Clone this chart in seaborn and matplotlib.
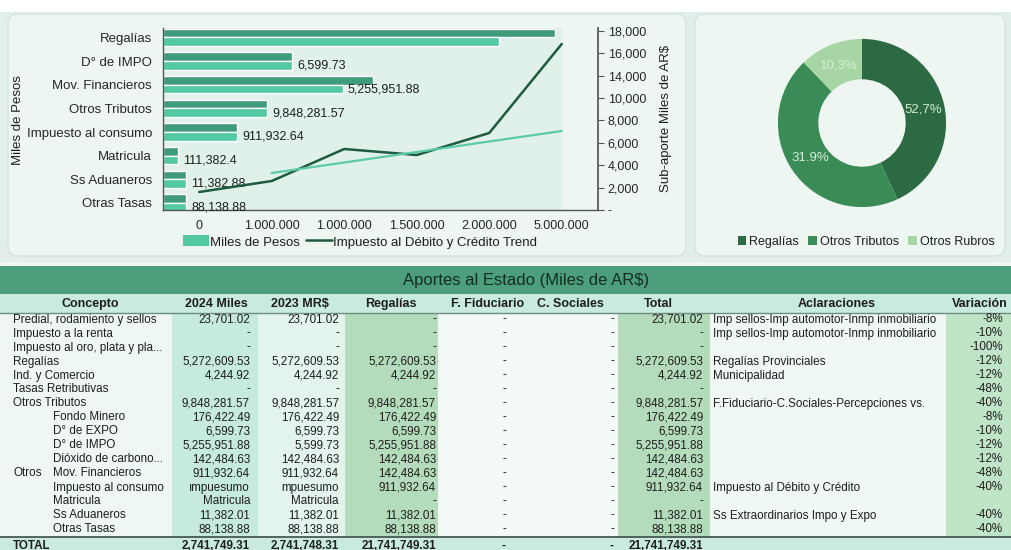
import numpy as np
import pandas as pd
import matplotlib
matplotlib.use("Agg")
import matplotlib.pyplot as plt
import seaborn as sns
from matplotlib import font_manager
from matplotlib.patches import FancyBboxPatch, Rectangle, Patch
from matplotlib.lines import Line2D

# Datos del grafico de barras (largo de barra)
categorias = ["Regalías", "D° de IMPO", "Mov. Financieros", "Otros Tributos",
              "Impuesto al consumo", "Matricula", "Ss Aduaneros", "Otras Tasas"]
barra_oscura = [3920, 1290, 2100, 1040, 740, 150, 230, 230]
barra_clara = [3360, 1290, 1800, 1040, 740, 150, 230, 230]
etiquetas_barra = ["", "6,599.73", "5,255,951.88", "9,848,281.57",
                   "911,932.64", "111,382.4", "11,382.88", "88,138.88"]

# Linea Impuesto al Debito y Credito + tendencia (eje derecho)
linea_x = [0, 1, 2, 3, 4, 5]
linea_val = [1810, 2916, 6134, 5531, 7743, 16693]
tend_x = [1, 5]
tend_val = [3720, 7944]
x_etiquetas = ["0", "1.000.000", "1.000.000", "1.500.000", "2.000.000", "5.000.000"]
y_der_ticks = [0, 2250, 4500, 6750, 9000, 11250, 13500, 15750, 18000]
y_der_etiquetas = ["-", "2,000", "4,000", "6,000", "8,000", "10,000", "14,000", "16,000", "18,000"]

# Dona
dona_nombres = ["Regalías", "Otros Tributos", "Otros Rubros"]
dona_val = [43.1, 44.7, 12.2]
dona_textos = ["52,7%", "31.9%", "10,3%"]

# Tabla
encabezados = ["Concepto", "2024 Miles", "2023 MR$", "Regalías", "F. Fiduciario",
               "C. Sociales", "Total", "Aclaraciones", "Variación"]
concepto = ["Predial, rodamiento y sellos", "Impuesto a la renta", "Impuesto al oro, plata y pla...",
            "Regalías", "Ind. y Comercio", "Tasas Retributivas", "Otros Tributos",
            "Fondo Minero", "D° de EXPO", "D° de IMPO", "Dióxido de carbono...",
            "Mov. Financieros", "Impuesto al consumo", "Matricula", "Ss Aduaneros", "Otras Tasas"]
nivel = [0, 0, 0, 0, 0, 0, 0, 1, 1, 1, 1, 1, 1, 1, 1, 1]
grupo = ["", "", "", "", "", "", "", "", "", "", "", "Otros", "", "", "", ""]
col_2024 = ["23,701.02", "-", "-", "5,272,609.53", "4,244.92", "-", "9,848,281.57", "176,422.49",
            "6,599.73", "5,255,951.88", "142,484.63", "911,932.64", "ımpuesumo", "Matricula",
            "11,382.01", "88,138.88"]
col_2023 = ["23,701.02", "-", "-", "5,272,609.53", "4,244.92", "-", "9,848,281.57", "176,422.49",
            "6,599.73", "5,599.73", "142,484.63", "911,932.64", "mpuesumo", "Matricula",
            "11,382.01", "88,138.88"]
col_regalias = ["-", "-", "-", "5,272,609.53", "4,244.92", "-", "9,848,281.57", "176,422.49",
                "6,599.73", "5,255,951.88", "142,484.63", "142,484.63", "911,932.64", "-",
                "11,382.01", "88,138.88"]
col_fiduciario = ["-"] * 16
col_sociales = ["-"] * 16
col_total = ["23,701.02", "-", "-", "5,272,609.53", "4,244.92", "-", "9,848,281.57", "176,422.49",
             "6,599.73", "5,255,951.88", "142,484.63", "142,484.63", "911,932.64", "-",
             "11,382.01", "88,138.88"]
aclaraciones = ["Imp sellos-Imp automotor-Inmp inmobiliario", "Imp sellos-Imp automotor-Inmp inmobiliario",
                "", "Regalías Provinciales", "Municipalidad", "",
                "F.Fiduciario-C.Sociales-Percepciones vs.", "", "", "", "", "",
                "Impuesto al Débito y Crédito", "", "Ss Extraordinarios Impo y Expo", ""]
variacion = ["-8%", "-10%", "-100%", "-12%", "-12%", "-48%", "-40%", "-8%", "-10%", "-12%",
             "-12%", "-48%", "-40%", "", "-40%", "-40%"]
fila_total = ["TOTAL", "2,741,749.31", "2,741,748.31", "21,741,749.31", "-", "-",
              "21,741,749.31", "", ""]

# Estilo
sns.set_theme(style="white")
nombres = {f.name for f in font_manager.fontManager.ttflist}
fam = "Liberation Sans Narrow" if "Liberation Sans Narrow" in nombres else "Liberation Sans"
plt.rcParams["font.family"] = [fam, "DejaVu Sans"]
plt.rcParams["text.color"] = "#1e1e1e"

OSCURO = "#3f9b79"
CLARO = "#52c8a3"
LINEA = "#1f5b3d"
TEND = "#5ccaa8"

W, H = 1011, 550


def rect(x0, y0, x1, y1):
    return [x0 / W, 1 - y1 / H, (x1 - x0) / W, (y1 - y0) / H]


fig = plt.figure(figsize=(W / 100, H / 100), dpi=100, facecolor="#e2eee8")

# fondo y paneles
bg = fig.add_axes([0, 0, 1, 1])
bg.set_xlim(0, W)
bg.set_ylim(H, 0)
bg.axis("off")
bg.add_patch(Rectangle((0, 0), W, 12, fc="white", ec="none"))
bg.add_patch(FancyBboxPatch((8, 14), 678, 242, boxstyle="round,pad=0,rounding_size=10",
                            fc="#eef6f1", ec="#d3e5dc", lw=1))
bg.add_patch(FancyBboxPatch((695, 14), 310, 242, boxstyle="round,pad=0,rounding_size=10",
                            fc="#eef6f1", ec="#d3e5dc", lw=1))

# barras
df = pd.DataFrame({"cat": categorias * 2,
                   "valor": barra_oscura + barra_clara,
                   "serie": ["2024"] * 8 + ["2023"] * 8})
ax_b = fig.add_axes(rect(163, 28, 598, 210))
ax_b.set_facecolor("none")
ax_b.axvspan(0, 3990, color="#e0f1ea", zorder=0, lw=0)
sns.barplot(data=df, y="cat", x="valor", hue="serie", palette=[OSCURO, CLARO],
            orient="h", width=0.74, saturation=1, ax=ax_b, legend=False)
ax_b.set_xlim(0, 4350)
ax_b.set_ylim(7.3, -0.4)
ax_b.set_xticks([])
ax_b.set_xlabel("")
ax_b.set_ylabel("")
ax_b.tick_params(axis="y", length=0, pad=8, labelsize=9.5)
for s in ["top", "right"]:
    ax_b.spines[s].set_visible(False)
for s in ["left", "bottom"]:
    ax_b.spines[s].set_color("#555555")
    ax_b.spines[s].set_linewidth(1)
for i, (v, t) in enumerate(zip(barra_clara, etiquetas_barra)):
    ax_b.text(v + 50, i + 0.2, t, va="center", ha="left", fontsize=9)

fig.text(18 / W, 1 - 120 / H, "Miles de Pesos", rotation=90, ha="center", va="center", fontsize=9.5)

# lineas sobre eje derecho
ax_l = fig.add_axes(rect(163, 28, 598, 210), facecolor="none")
sns.lineplot(x=linea_x, y=linea_val, ax=ax_l, color=LINEA, lw=1.8)
sns.lineplot(x=tend_x, y=tend_val, ax=ax_l, color=TEND, lw=1.6)
ax_l.set_xlim(-0.5, 5.5)
ax_l.set_ylim(0, 18300)
ax_l.set_xticks(linea_x)
ax_l.set_xticklabels(x_etiquetas)
ax_l.yaxis.tick_right()
ax_l.set_yticks(y_der_ticks)
ax_l.set_yticklabels(y_der_etiquetas)
ax_l.tick_params(axis="y", direction="out", length=4, width=0.8, color="#555555", pad=3, labelsize=9)
ax_l.tick_params(axis="x", length=0, pad=7, labelsize=9)
for s in ["top", "left", "bottom"]:
    ax_l.spines[s].set_visible(False)
ax_l.spines["right"].set_color("#555555")
fig.text(666 / W, 1 - 118 / H, "Sub-aporte Miles de AR$", rotation=90, ha="center", va="center", fontsize=9.5)

fig.legend([Patch(fc=CLARO, ec="none"), Line2D([], [], color=LINEA, lw=1.8)],
           ["Miles de Pesos", "Impuesto al Débito y Crédito Trend"],
           loc="center", bbox_to_anchor=(360 / W, 1 - 242 / H), ncol=2, frameon=False,
           fontsize=9.5, handlelength=2.0, handleheight=0.9, handletextpad=0.1, columnspacing=0.4)

# dona
ax_d = fig.add_axes(rect(767, 28, 957, 218))
dona_colores = ["#2c6a43", "#3b8b57", "#a8d5a6"]
textos = iter(dona_textos)
ax_d.pie(dona_val, colors=dona_colores, startangle=90, counterclock=False,
         wedgeprops=dict(width=0.48, edgecolor="none"),
         autopct=lambda p: next(textos), pctdistance=0.74,
         textprops=dict(color="#d3eed3", fontsize=9.5))
ax_d.set_xlim(-1.13, 1.13)
ax_d.set_ylim(-1.13, 1.13)
fig.legend([Patch(fc=c, ec="none") for c in dona_colores], dona_nombres,
           loc="center", bbox_to_anchor=(866 / W, 1 - 242 / H), ncol=3, frameon=False,
           fontsize=9, handlelength=0.7, handleheight=0.7, handletextpad=0.25, columnspacing=0.7)

# tabla
bg.add_patch(Rectangle((0, 262), W, 288, fc="#eef7f3", ec="none"))
bg.add_patch(Rectangle((0, 266), W, 28, fc="#4d9e7a", ec="none"))
bg.text(526, 281, "Aportes al Estado (Miles de AR$)", ha="center", va="center",
        fontsize=12, color="#122e21")
bg.add_patch(Rectangle((0, 294), W, 19, fc="#c9ebdf", ec="none"))

# fondo de columnas (x0, x1, color)
franjas = [(172, 258, "#c6eadc"), (258, 345, "#e3f4ed"), (345, 438, "#b4dcbc"),
           (438, 618, "#f4faf7"), (618, 710, "#b4dcbc"), (710, 946, "#f0f8f4"),
           (946, W, "#c0e4c8")]
for x0, x1, c in franjas:
    bg.add_patch(Rectangle((x0, 313), x1 - x0, 224, fc=c, ec="none"))
bg.add_patch(Rectangle((0, 537), W, 13, fc="#c9ebdf", ec="none"))
bg.plot([0, W], [313, 313], color="#6d8d7e", lw=1)
bg.plot([0, W], [537, 537], color="#3c4d45", lw=1.2)

enc_x = [90, 216, 300, 391, 488, 570, 658, 837, 980]
for x, t in zip(enc_x, encabezados):
    bg.text(x, 304, t, ha="center", va="center", fontsize=9, fontweight="bold")

columnas = [col_2024, col_2023, col_regalias, col_fiduciario, col_sociales, col_total]
col_der = [250, 339, 436, 506, 614, 703]
fs = 8.4
paso = 14.0
for i in range(len(concepto)):
    y = 319.5 + i * paso
    bg.text(13 if nivel[i] == 0 else 53, y, concepto[i], ha="left", va="center", fontsize=fs)
    if grupo[i]:
        bg.text(13, y, grupo[i], ha="left", va="center", fontsize=fs)
    for col, x in zip(columnas, col_der):
        bg.text(x, y, col[i], ha="right", va="center", fontsize=fs)
    bg.text(713, y, aclaraciones[i], ha="left", va="center", fontsize=fs)
    bg.text(1003, y, variacion[i], ha="right", va="center", fontsize=fs)

y = 546
bg.text(13, y, fila_total[0], ha="left", va="center", fontsize=fs, fontweight="bold")
for t, x in zip(fila_total[1:7], col_der):
    bg.text(x, y, t, ha="right", va="center", fontsize=fs, fontweight="bold")

fig.savefig("out.png", dpi=100, facecolor=fig.get_facecolor())
